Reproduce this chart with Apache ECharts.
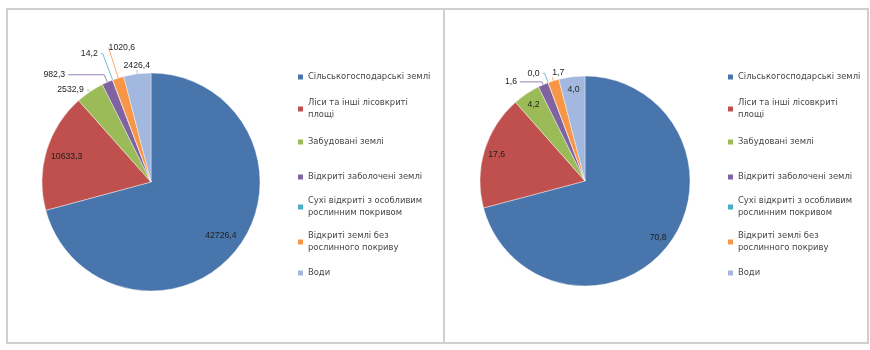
<!DOCTYPE html>
<html>
<head>
<meta charset="utf-8">
<script src="https://cdn.jsdelivr.net/npm/echarts@6/dist/echarts.min.js"></script>
<style>
html,body{margin:0;padding:0;background:#fff;}
#chart{width:870px;height:350px;}
</style>
</head>
<body>
<div id="chart"></div>
<script>
// ---- data ----
const categories = [
  'Сільськогосподарські землі',
  'Ліси та інші лісовкриті площі',
  'Забудовані землі',
  'Відкриті заболочені землі',
  'Сухі відкриті з особливим рослинним покривом',
  'Відкриті землі без рослинного покриву',
  'Води'
];
const legendLabels = [
  'Сільськогосподарські землі',
  'Ліси та інші лісовкриті\nплощі',
  'Забудовані землі',
  'Відкриті заболочені землі',
  'Сухі відкриті з особливим\nрослинним покривом',
  'Відкриті землі без\nрослинного покриву',
  'Води'
];
const areaValues = [42726.4, 10633.3, 2532.9, 982.3, 14.2, 1020.6, 2426.4]; // тис. га
const shareValues = [70.8, 17.6, 4.2, 1.6, 0.0, 1.7, 4.0];               // %
const leftInside = [0, 1];
const rightInside = [0, 1, 2, 6];

// ---- styles / layout ----
const colors = ['#4876AC', '#C0504D', '#9BBB59', '#7F63A1', '#4BACC6', '#F79646', '#A3B8DF'];
const legendIconY = [77, 109, 142, 177, 207, 242, 273];
const lineH = 12.5;
// leader-line styling per slice: [length, length2, align, verticalAlign, distance]
const leftLines = [null, null, [2, 2], [8, 36], [28, 2], [32, 0, 'left', 'middle', 0], [4, 0, 'center', 'bottom', 0]];
const rightLines = [null, null, null, [3, 22], [10, 2], [4, 0, 'left', 'bottom', 0], null];
const fmt = v => v.toFixed(1).replace('.', ',');

const chart = echarts.init(document.getElementById('chart'), null, {renderer: 'canvas'});

function pieSeries(values, center, r, insideIdx, ratio, lines) {
  const labelStyle = {fontSize: 8.7, color: '#1e1e1e', fontFamily: 'Liberation Sans'};
  const main = {
    type: 'pie', center: center, radius: r, startAngle: 90, clockwise: true,
    silent: true, animation: false, avoidLabelOverlap: false,
    color: colors,
    itemStyle: {borderColor: '#fff', borderWidth: 0.4},
    label: Object.assign({position: 'outside', distanceToLabelLine: 3, formatter: p => fmt(p.value)}, labelStyle),
    labelLine: {length: 10, length2: 4, lineStyle: {width: 0.8}},
    labelLayout: p => {
      const l = lines[p.dataIndex];
      if (l && l[2]) return {align: l[2], verticalAlign: l[3]};
      return {};
    },
    emphasis: {disabled: true},
    data: categories.map((n, i) => {
      const l = lines[i];
      const inside = insideIdx.includes(i);
      const item = {name: n, value: values[i], label: {show: !inside}, labelLine: {show: !inside}};
      if (l) {
        item.labelLine.length = l[0];
        item.labelLine.length2 = l[1];
        if (l[4] !== undefined) item.label.distanceToLabelLine = l[4];
      }
      return item;
    })
  };
  const overlay = {
    type: 'pie', center: center, radius: [r * ratio, r], startAngle: 90, clockwise: true,
    silent: true, animation: false, z: 5,
    itemStyle: {color: 'rgba(0,0,0,0)'},
    label: Object.assign({position: 'inside', formatter: p => fmt(p.value)}, labelStyle),
    labelLine: {show: false},
    emphasis: {disabled: true},
    data: categories.map((n, i) => ({
      name: n, value: values[i],
      label: {show: insideIdx.includes(i)}
    }))
  };
  return [main, overlay];
}

function legends(left) {
  return categories.map((n, i) => {
    const two = legendLabels[i].indexOf('\n') >= 0;
    return {
      data: [n], left: left,
      top: two ? legendIconY[i] - 1.5 * lineH : legendIconY[i] - lineH / 2,
      orient: 'vertical', itemWidth: 5, itemHeight: 5, itemGap: 0, itemStyle: {borderWidth: 0},
      selectedMode: false, padding: 0, icon: 'rect',
      formatter: () => legendLabels[i],
      textStyle: {fontSize: 8.4, color: '#454545', fontFamily: 'DejaVu Sans',
        lineHeight: lineH, padding: two ? [lineH, 0, 0, 0] : 0}
    };
  });
}

chart.setOption({
  animation: false,
  color: colors,
  graphic: [
    {type: 'rect', shape: {x: 7, y: 9, width: 437, height: 334}, style: {fill: 'none', stroke: '#cfcfcf', lineWidth: 2}},
    {type: 'rect', shape: {x: 444, y: 9, width: 424, height: 334}, style: {fill: 'none', stroke: '#cfcfcf', lineWidth: 2}}
  ],
  legend: legends(298).concat(legends(728)),
  series: pieSeries(areaValues, [151, 182], 109, leftInside, 0.56, leftLines)
    .concat(pieSeries(shareValues, [585, 181], 105, rightInside, 0.7, rightLines))
});
</script>
</body>
</html>
